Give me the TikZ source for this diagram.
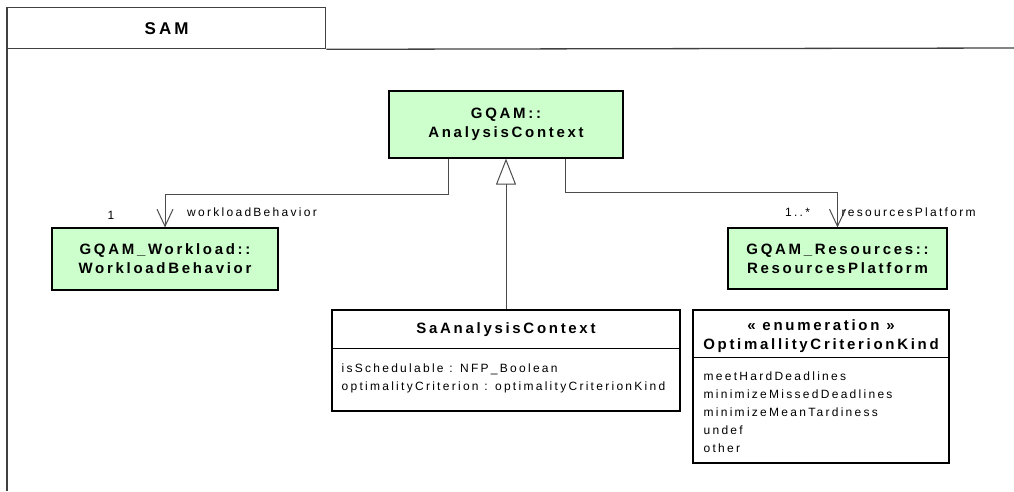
\documentclass[tikz,border=0pt]{standalone}
\usepackage{fontspec}
\newfontfamily\umlfont[LetterSpace=19]{Liberation Sans}
\newfontfamily\umlboldfont[LetterSpace=18]{Liberation Sans Bold}
\usetikzlibrary{arrows.meta, positioning, calc}
\definecolor{umlgreen}{HTML}{CCFFCC}
\definecolor{framegray}{HTML}{404040}

\begin{document}
\begin{tikzpicture}[x=1pt,y=-1pt,
  frameline/.style={draw=framegray,line width=1.3pt},
  tabbox/.style={frameline,fill=white,inner sep=0pt,font=\umlboldfont\fontsize{17}{20}\selectfont},
  classbox/.style={draw=black,line width=1.2pt,fill=umlgreen,inner sep=0pt,align=center,font=\umlboldfont\fontsize{15}{19}\selectfont},
  plainbox/.style={draw=black,line width=1.2pt,fill=white,inner sep=0pt},
  classname/.style={inner sep=0pt,align=center,font=\umlboldfont\fontsize{15}{19}\selectfont},
  attrtext/.style={inner sep=0pt,align=left,font=\umlfont\fontsize{12}{18}\selectfont},
  rolelabel/.style={inner sep=0pt,font=\umlfont\fontsize{12}{14}\selectfont},
  assoc/.style={draw=black!70,line width=1pt,-{Straight Barb[length=17pt,width=16pt]}},
  generalize/.style={draw=black!70,line width=1pt,-{Triangle[open,length=26pt,width=20pt]}}]
\useasboundingbox (0,0) rectangle (1014,491);
\node[tabbox,minimum width=318pt,minimum height=41pt,anchor=north west] (tab) at (7,7) {SAM};
\draw[frameline] (tab.south east) -- (1014,48);
\draw[frameline] (tab.north west) -- (7,491);
\node[classbox,minimum width=234pt,minimum height=67pt] (ac) at (506,124.5) {GQAM::\\AnalysisContext};
\node[classbox,minimum width=226pt,minimum height=62pt] (wb) at (165,259) {GQAM\_Workload::\\WorkloadBehavior};
\node[classbox,minimum width=219pt,minimum height=61pt] (rp) at (837.5,258.5) {GQAM\_Resources::\\ResourcesPlatform};
\node[plainbox,minimum width=348pt,minimum height=101pt] (sa) at (506,360.5) {};
\draw[draw=black,line width=1.2pt] ([yshift=-39pt]sa.north west) -- ([yshift=-39pt]sa.north east);
\node[classname] (saname) at ($(sa.north)+(0,20)$) {SaAnalysisContext};
\node[attrtext,anchor=west] (saattr) at ($(sa.west)+(10,17.5)$) {isSchedulable : NFP\_Boolean\\optimalityCriterion : optimalityCriterionKind};
\node[plainbox,minimum width=256pt,minimum height=153pt] (ock) at (821,386.5) {};
\draw[draw=black,line width=1.2pt] ([yshift=-48pt]ock.north west) -- ([yshift=-48pt]ock.north east);
\node[classname] (ockname) at ($(ock.north)+(0,26.5)$) {«~enumeration~»\\OptimallityCriterionKind};
\node[attrtext,anchor=west] (ocklit) at ($(ock.west)+(11,25.5)$) {meetHardDeadlines\\minimizeMissedDeadlines\\minimizeMeanTardiness\\undef\\other};
\draw[assoc] ([xshift=-58pt]ac.south) -- ++(0,36) -| (wb.north);
\draw[assoc] ([xshift=59pt]ac.south) -- ++(0,34) -| (rp.north);
\draw[generalize] (sa.north) -- (ac.south);
\node[rolelabel] (wbmult) at ($(wb.north)+(-54,-12)$) {1};
\node[rolelabel,anchor=west] (wbrole) at ($(wb.north)+(22,-15)$) {workloadBehavior};
\node[rolelabel] (rpmult) at ($(rp.north)+(-40,-15)$) {1..*};
\node[rolelabel,anchor=west] (rprole) at ($(rp.north)+(4,-15)$) {resourcesPlatform};
\end{tikzpicture}
\end{document}
